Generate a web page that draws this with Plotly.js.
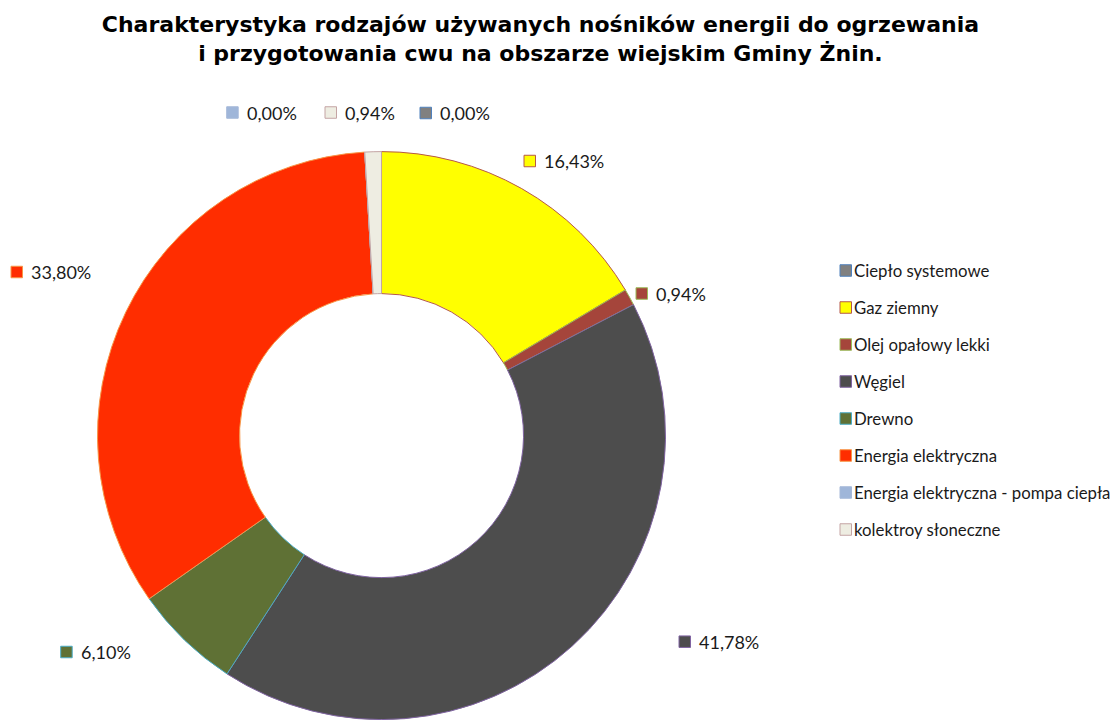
<!DOCTYPE html>
<html><head><meta charset="utf-8">
<script src="https://cdn.plot.ly/plotly-3.0.1.min.js"></script>
<style>html,body{margin:0;padding:0;background:#fff}#chart{width:1112px;height:720px}</style>
</head><body><div id="chart"></div>
<script>
const categories = ["Ciepło systemowe","Gaz ziemny","Olej opałowy lekki","Węgiel","Drewno","Energia elektryczna","Energia elektryczna - pompa ciepła","kolektroy słoneczne"];
const values = [0.00, 16.43, 0.94, 41.78, 6.10, 33.80, 0.00, 0.94];
const colors = ["#808080","#ffff00","#a5453b","#4d4d4d","#5f7135","#ff2d00","#9fb6d9","#eeede2"];
const borderColors = ["#4f81bd","#b5584a","#9bbb59","#8064a2","#4bacc6","#f79646","#a6b9d9","#c4a4a4"];
const percentLabels = values.map(v => v.toFixed(2).replace('.', ',') + '%');

const W = 1112, H = 720;
const px = x => x / W;
const py = y => 1 - y / H;

// label placement (pixels): [square left x, centre y]
const labelPos = [[420,113],[524,161],[636,293.5],[679,641.7],[60.7,652],[11,272],[226.7,112.5],[325,112.5]];
const sq = 11.5;
const legendX = 840, legendY0 = 270.5, legendStep = 37;

const shapes = [], annotations = [];
categories.forEach((c, i) => {
  const [lx, ly] = labelPos[i];
  shapes.push({type:'rect', xref:'paper', yref:'paper', x0:px(lx), x1:px(lx+sq), y0:py(ly+sq/2), y1:py(ly-sq/2),
    fillcolor: colors[i], line:{color: borderColors[i], width:1}});
  annotations.push({xref:'paper', yref:'paper', x:px(lx+19), y:py(ly), xanchor:'left', yanchor:'middle',
    text: percentLabels[i], showarrow:false, borderpad:0, font:{family:'Lato', size:18, color:'#1a1a1a'}});
  const gy = legendY0 + legendStep * i;
  shapes.push({type:'rect', xref:'paper', yref:'paper', x0:px(legendX), x1:px(legendX+sq), y0:py(gy+sq/2), y1:py(gy-sq/2),
    fillcolor: colors[i], line:{color: borderColors[i], width:1}});
  annotations.push({xref:'paper', yref:'paper', x:px(legendX+13), y:py(gy), xanchor:'left', yanchor:'middle',
    text: c, showarrow:false, borderpad:0, font:{family:'Lato', size:16.8, color:'#1a1a1a'}});
});

const trace = {
  type:'pie', labels: categories, values: values, sort:false, direction:'clockwise', rotation:0,
  hole:0.5, textinfo:'none', showlegend:false,
  marker:{colors: colors, line:{color: borderColors, width:1}},
  domain:{x:[0.0877, 0.5985], y:[0, 0.79]}
};

const layout = {
  width:W, height:H, margin:{l:0,r:0,t:0,b:0}, paper_bgcolor:'#fff', showlegend:false,
  title:{text:'<b>Charakterystyka rodzajów używanych nośników energii do ogrzewania<br>i przygotowania cwu na obszarze wiejskim Gminy Żnin.</b>',
    x:0.486, xanchor:'center', xref:'paper', yref:'paper', y:1-32/H, yanchor:'top',
    font:{family:'DejaVu Sans', size:22, color:'#000'}},
  shapes: shapes, annotations: annotations
};

Plotly.newPlot('chart', [trace], layout, {displayModeBar:false, staticPlot:true});
</script></body></html>
